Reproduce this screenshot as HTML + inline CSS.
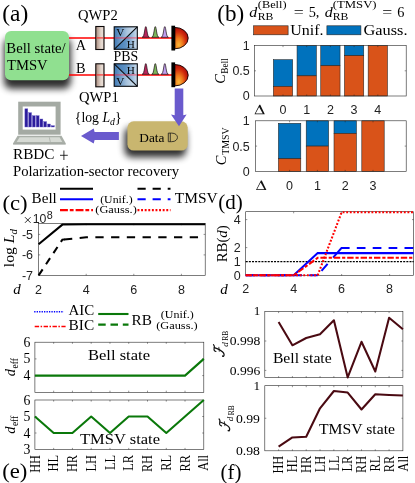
<!DOCTYPE html>
<html><head><meta charset="utf-8">
<style>
html,body{margin:0;padding:0;background:#fff;}
svg{display:block;opacity:0.999;}
text{font-family:"Liberation Serif",serif;fill:#000;}
.s{font-family:"Liberation Sans",sans-serif;fill:#222;}
.i{font-style:italic;}
</style></head><body>
<svg width="415" height="483" viewBox="0 0 415 483">
<defs>
<filter id="sh2" x="-30%" y="-40%" width="160%" height="190%"><feGaussianBlur stdDeviation="3.6"/></filter>
<filter id="sh" x="-30%" y="-40%" width="160%" height="190%"><feGaussianBlur stdDeviation="2.6"/></filter>
<linearGradient id="qwp" x1="0" x2="1" y1="0" y2="0"><stop offset="0" stop-color="#a88a7c"/><stop offset="0.55" stop-color="#dccdc3"/><stop offset="0.8" stop-color="#eadfd7"/><stop offset="1" stop-color="#cdbbb0"/></linearGradient>
<linearGradient id="pbsA" x1="0" x2="1" y1="0" y2="0"><stop offset="0" stop-color="#3d78b4"/><stop offset="0.55" stop-color="#a9c4de"/><stop offset="1" stop-color="#dce8f2"/></linearGradient>
<linearGradient id="pbsB" x1="0" x2="1" y1="0" y2="0"><stop offset="0" stop-color="#3d78b4"/><stop offset="0.5" stop-color="#5e92c4"/><stop offset="1" stop-color="#cfdfee"/></linearGradient>
<radialGradient id="det" cx="0.25" cy="0.8" r="0.85" fx="0.3" fy="0.82"><stop offset="0" stop-color="#fbb838"/><stop offset="0.35" stop-color="#ee7a1c"/><stop offset="0.7" stop-color="#d02a0c"/><stop offset="1" stop-color="#a80808"/></radialGradient>
</defs>
<rect width="415" height="483" fill="#fff"/>

<!-- ============ (a) ============ -->
<g id="pa">
<text x="2.3" y="20.9" font-size="23.5" textLength="26" lengthAdjust="spacingAndGlyphs">(a)</text>
<!-- shadows -->
<rect x="4" y="38" width="66.8" height="50.8" rx="7" fill="#000" opacity="0.82" filter="url(#sh2)"/>
<rect x="124.6" y="127.3" width="61.5" height="30" rx="7" fill="#000" opacity="0.82" filter="url(#sh2)"/>
<!-- beams -->
<line x1="69" y1="37.9" x2="172" y2="37.9" stroke="#ff0000" stroke-width="1.5"/>
<line x1="69" y1="74.9" x2="172" y2="74.9" stroke="#ff0000" stroke-width="1.5"/>
<!-- source -->
<rect x="5" y="31" width="64" height="49.3" rx="6" fill="#90e090"/>
<text x="6.3" y="52.9" font-size="14.6" textLength="59.4" lengthAdjust="spacingAndGlyphs">Bell state/</text>
<text x="7" y="69.8" font-size="14.6">TMSV</text>
<text x="75.8" y="49.8" font-size="14.3">A</text>
<text x="76" y="72.8" font-size="14.3">B</text>
<!-- QWP -->
<rect x="95.8" y="26.5" width="8.2" height="23" fill="url(#qwp)" stroke="#0a0606" stroke-width="1.1"/>
<rect x="95.8" y="63.8" width="8.2" height="23" fill="url(#qwp)" stroke="#0a0606" stroke-width="1.1"/>
<line x1="96.3" y1="37.9" x2="103.5" y2="37.9" stroke="#ff2020" stroke-width="1.5" opacity="0.7"/>
<line x1="96.3" y1="74.9" x2="103.5" y2="74.9" stroke="#ff2020" stroke-width="1.5" opacity="0.7"/>
<text x="78" y="20" font-size="14.6">QWP2</text>
<text x="79" y="101.5" font-size="14.6">QWP1</text>
<!-- PBS -->
<path d="M114.2 26.8 H137.3 L114.2 49.3Z" fill="url(#pbsA)"/>
<path d="M137.3 26.8 V49.3 H114.2Z" fill="url(#pbsB)"/>
<rect x="114.2" y="26.8" width="23.1" height="22.5" fill="none" stroke="#05080c" stroke-width="1.1"/>
<line x1="114.2" y1="49.3" x2="137.3" y2="26.8" stroke="#05080c" stroke-width="1.1"/>
<line x1="114.7" y1="37.9" x2="136.8" y2="37.9" stroke="#ff2040" stroke-width="1.4" opacity="0.5"/>
<text x="116.3" y="35.8" font-size="11.2">V</text>
<text x="126.8" y="47.7" font-size="11.2">H</text>
<path d="M114.2 63.8 V86.3 H137.3Z" fill="url(#pbsA)"/>
<path d="M114.2 63.8 H137.3 V86.3Z" fill="url(#pbsB)"/>
<rect x="114.2" y="63.8" width="23.1" height="22.5" fill="none" stroke="#05080c" stroke-width="1.1"/>
<line x1="114.2" y1="63.8" x2="137.3" y2="86.3" stroke="#05080c" stroke-width="1.1"/>
<line x1="114.7" y1="74.9" x2="136.8" y2="74.9" stroke="#ff2040" stroke-width="1.4" opacity="0.5"/>
<text x="126.8" y="73.5" font-size="11.2">H</text>
<text x="116.3" y="84.6" font-size="11.2">V</text>
<text x="113.5" y="60.6" font-size="14.6" textLength="24.6" lengthAdjust="spacingAndGlyphs">PBS</text>
<!-- pulses -->
<g id="pul" stroke="#1a0a10" stroke-width="0.7" stroke-linejoin="round">
<path d="M142.2 37.3 C144.6 37.3 144.6 26.6 145.8 26.6 C147 26.6 147 37.3 149.4 37.3Z" fill="#b8285c"/>
<path d="M151.7 37.3 C154.1 37.3 154.1 26.6 155.3 26.6 C156.5 26.6 156.5 37.3 158.9 37.3Z" fill="#7cb85c"/>
<path d="M161.2 37.3 C163.6 37.3 163.6 26.6 164.8 26.6 C166 26.6 166 37.3 168.4 37.3Z" fill="#c0a0f0"/>
</g>
<use href="#pul" y="37"/>
<!-- detectors -->
<path d="M174.8 27.4 A13.4 10.7 0 0 1 174.8 48.8Z" fill="url(#det)" stroke="#100" stroke-width="0.9"/>
<rect x="171.4" y="25.7" width="3.7" height="24.8" fill="#000"/>
<path d="M174.8 64.5 A13.4 10.7 0 0 1 174.8 85.9Z" fill="url(#det)" stroke="#100" stroke-width="0.9"/>
<rect x="171.4" y="62.4" width="3.7" height="24.8" fill="#000"/>
<!-- data box -->
<rect x="127.4" y="121.3" width="60.3" height="29.3" rx="6.3" fill="#c9b66f"/>
<text x="139.3" y="141.9" font-size="13.3">Data</text>
<!-- arrow -->
<path d="M174.7 88.5 H183.3 V115.2 L186.6 114.6 L179 126.2 L171 114.6 L174.7 115.2Z" fill="#6a5acd"/>
<g stroke="#111" fill="none" stroke-width="0.75"><path d="M168.3 133.1 H171.6 C179.4 133.1 179.4 141.7 171.6 141.7 H168.3 Z M170.3 133.1 V141.7"/></g>
<path d="M118.9 132 V140 H94.6 L93.7 143.6 L81 135.9 L93.7 128.6 L94.6 132Z" fill="#6a5acd"/>
<!-- {log L_d} -->
<text x="74.8" y="122" font-size="14.5" textLength="46.8" lengthAdjust="spacingAndGlyphs">{log <tspan class="i">L</tspan><tspan class="i" font-size="10.3" dy="2.5">d</tspan><tspan dy="-2.5">}</tspan></text>
<!-- laptop -->
<rect x="18.2" y="101.7" width="42.4" height="33" fill="#a4aaa3"/>
<rect x="22.7" y="106.5" width="32.9" height="23.1" fill="#fff"/>
<g fill="#2c1c9c" stroke="#6a60c8" stroke-width="0.4">
<rect x="24.9" y="108.8" width="2.9" height="18.2"/><rect x="28.65" y="112.7" width="2.9" height="14.3"/><rect x="32.4" y="115.7" width="2.9" height="11.3"/><rect x="36.2" y="115.7" width="2.9" height="11.3"/><rect x="39.95" y="119" width="2.9" height="8"/><rect x="43.7" y="121.6" width="2.9" height="5.4"/><rect x="47.5" y="124" width="2.9" height="3"/><rect x="51.2" y="125.7" width="3.2" height="1.3"/>
</g>
<path d="M17.6 135.8 H61.5 L65.7 143.2 H13.1Z" fill="#a9afa8"/>
<path d="M19.6 137.3 H59.6 L62.3 141.9 H16.6Z" fill="#d6dad4"/>
<path d="M49.3 137.3 L50.3 141.9" stroke="#a9afa8" stroke-width="0.8"/>
<path d="M13.1 143.2 H65.7 V144.6 H13.1Z" fill="#8e948d"/>
<text x="13" y="159" font-size="14.6" textLength="41.5" lengthAdjust="spacingAndGlyphs">RBDC</text>
<path d="M60 155.3 H67.8 M63.9 150.5 V160" stroke="#000" stroke-width="0.8" fill="none"/>
<text x="13" y="176" font-size="14.6" textLength="166" lengthAdjust="spacingAndGlyphs">Polarization-sector recovery</text>
</g>
<g id="pb">
<text x="217.3" y="20.8" font-size="23" textLength="26.9" lengthAdjust="spacingAndGlyphs">(b)</text>
<text x="249.3" y="17" font-size="14" class="i" textLength="8" lengthAdjust="spacingAndGlyphs">d</text>
<text x="257.8" y="20" font-size="9.3" textLength="15.6" lengthAdjust="spacingAndGlyphs">RB</text>
<text x="257.8" y="8.3" font-size="9.6" textLength="28.8" lengthAdjust="spacingAndGlyphs">(Bell)</text>
<text x="293.8" y="17" font-size="14.5" textLength="10" lengthAdjust="spacingAndGlyphs">=</text>
<text x="308.7" y="17" font-size="14.3">5,</text>
<text x="324.8" y="17" font-size="14" class="i" textLength="8" lengthAdjust="spacingAndGlyphs">d</text>
<text x="332.8" y="20" font-size="9.3" textLength="15.6" lengthAdjust="spacingAndGlyphs">RB</text>
<text x="332.8" y="8.3" font-size="9.6" textLength="43.8" lengthAdjust="spacingAndGlyphs">(TMSV)</text>
<text x="382.3" y="17" font-size="14.5" textLength="10" lengthAdjust="spacingAndGlyphs">=</text>
<text x="397.3" y="17" font-size="14.3">6</text>
<rect x="253.6" y="25.8" width="34.5" height="9" fill="#D95319" stroke="#222" stroke-width="0.6"/>
<text x="290.2" y="35.2" font-size="14.2" textLength="33.3" lengthAdjust="spacingAndGlyphs">Unif.</text>
<rect x="326.9" y="25.8" width="34" height="9" fill="#0072BD" stroke="#222" stroke-width="0.6"/>
<text x="363.5" y="35.2" font-size="14.2" textLength="44" lengthAdjust="spacingAndGlyphs">Gauss.</text>
<g stroke="#222" stroke-width="0.55">
<rect x="273.35" y="59.71" width="19.3" height="26.71" fill="#0072BD"/>
<rect x="273.35" y="86.42" width="19.3" height="9.58" fill="#D95319"/>
<rect x="297.05" y="45.60" width="19.3" height="30.24" fill="#0072BD"/>
<rect x="297.05" y="75.84" width="19.3" height="20.16" fill="#D95319"/>
<rect x="320.75" y="45.60" width="19.3" height="20.16" fill="#0072BD"/>
<rect x="320.75" y="65.76" width="19.3" height="30.24" fill="#D95319"/>
<rect x="344.45" y="45.60" width="19.3" height="10.08" fill="#0072BD"/>
<rect x="344.45" y="55.68" width="19.3" height="40.32" fill="#D95319"/>
<rect x="368.15" y="45.60" width="19.3" height="50.40" fill="#D95319"/>
</g>
<rect x="254.5" y="45.6" width="151.70" height="50.40" fill="none" stroke="#262626" stroke-width="0.6"/>
<path d="M283.00 96.0v-1.5M283.00 45.6v1.5M306.70 96.0v-1.5M306.70 45.6v1.5M330.40 96.0v-1.5M330.40 45.6v1.5M354.10 96.0v-1.5M354.10 45.6v1.5M377.80 96.0v-1.5M377.80 45.6v1.5M254.5 70.80h1.5M406.2 70.80h-1.5" stroke="#262626" stroke-width="0.5" fill="none"/>
<text x="249.8" y="50.0" font-size="12.5" class="s" text-anchor="end">1</text>
<text x="249.8" y="75.2" font-size="12.5" class="s" text-anchor="end">0.5</text>
<text x="249.8" y="100.4" font-size="12.5" class="s" text-anchor="end">0</text>
<text x="283.0" y="113.6" font-size="12.5" class="s" text-anchor="middle">0</text>
<text x="306.7" y="113.6" font-size="12.5" class="s" text-anchor="middle">1</text>
<text x="330.4" y="113.6" font-size="12.5" class="s" text-anchor="middle">2</text>
<text x="354.1" y="113.6" font-size="12.5" class="s" text-anchor="middle">3</text>
<text x="377.8" y="113.6" font-size="12.5" class="s" text-anchor="middle">4</text>
<path d="M254.5 114.3 L259.34999999999997 104.8 H260.25 L264.8 114.3Z M255.6 113.5 H262.75 L259.09999999999997 106.89999999999999Z" fill="#111" fill-rule="evenodd"/>
<g transform="translate(225,83.7) rotate(-90)">
<text x="0" y="0" font-size="14.5" class="i">C</text>
<text x="10" y="3.4" font-size="10" textLength="15.3" lengthAdjust="spacingAndGlyphs">Bell</text>
</g>
<g stroke="#222" stroke-width="0.55">
<rect x="278.40" y="123.33" width="22.4" height="35.42" fill="#0072BD"/>
<rect x="278.40" y="158.75" width="22.4" height="12.65" fill="#D95319"/>
<rect x="306.20" y="120.80" width="22.4" height="25.30" fill="#0072BD"/>
<rect x="306.20" y="146.10" width="22.4" height="25.30" fill="#D95319"/>
<rect x="334.00" y="120.80" width="22.4" height="12.65" fill="#0072BD"/>
<rect x="334.00" y="133.45" width="22.4" height="37.95" fill="#D95319"/>
<rect x="361.80" y="120.80" width="22.4" height="50.60" fill="#D95319"/>
</g>
<rect x="255.6" y="120.8" width="150.60" height="50.60" fill="none" stroke="#262626" stroke-width="0.6"/>
<path d="M289.60 171.4v-1.5M289.60 120.8v1.5M317.40 171.4v-1.5M317.40 120.8v1.5M345.20 171.4v-1.5M345.20 120.8v1.5M373.00 171.4v-1.5M373.00 120.8v1.5M255.6 146.10h1.5M406.2 146.10h-1.5" stroke="#262626" stroke-width="0.5" fill="none"/>
<text x="249.8" y="125.2" font-size="12.5" class="s" text-anchor="end">1</text>
<text x="249.8" y="150.5" font-size="12.5" class="s" text-anchor="end">0.5</text>
<text x="249.8" y="175.8" font-size="12.5" class="s" text-anchor="end">0</text>
<text x="289.6" y="189.5" font-size="12.5" class="s" text-anchor="middle">0</text>
<text x="317.4" y="189.5" font-size="12.5" class="s" text-anchor="middle">1</text>
<text x="345.2" y="189.5" font-size="12.5" class="s" text-anchor="middle">2</text>
<text x="373.0" y="189.5" font-size="12.5" class="s" text-anchor="middle">3</text>
<path d="M256 190 L260.9 180.4 H261.8 L266.4 190Z M257.1 189.2 H264.34999999999997 L260.65 182.5Z" fill="#111" fill-rule="evenodd"/>
<g transform="translate(225.6,165.2) rotate(-90)">
<text x="0" y="0" font-size="14.5" class="i">C</text>
<text x="10.4" y="3.4" font-size="10" textLength="27.3" lengthAdjust="spacingAndGlyphs">TMSV</text>
</g>
</g>
<g id="pc">
<text x="2.4" y="209.7" font-size="21.3" textLength="25.2" lengthAdjust="spacingAndGlyphs">(c)</text>
<text x="31.6" y="203" font-size="14.5" textLength="25.2" lengthAdjust="spacingAndGlyphs">Bell</text>
<line x1="60" y1="188.8" x2="93" y2="188.8" stroke="#000" stroke-width="2.05"/>
<line x1="60" y1="199.3" x2="93" y2="199.3" stroke="#0000ff" stroke-width="2.05"/>
<line x1="60" y1="210.1" x2="93" y2="210.1" stroke="#ff0000" stroke-width="2.05" stroke-dasharray="7.9 1.9 3.8 2"/>
<text x="100.2" y="203.2" font-size="11.3" textLength="32.5" lengthAdjust="spacingAndGlyphs">(Unif.)</text>
<text x="95.3" y="213.4" font-size="11.3" textLength="41.5" lengthAdjust="spacingAndGlyphs">(Gauss.)</text>
<line x1="137.5" y1="188.8" x2="170.5" y2="188.8" stroke="#000" stroke-width="2.05" stroke-dasharray="8.2 6.9"/>
<line x1="137.5" y1="199.3" x2="170.5" y2="199.3" stroke="#0000ff" stroke-width="2.05" stroke-dasharray="8.2 6.9"/>
<line x1="137.5" y1="210.1" x2="170.5" y2="210.1" stroke="#ff0000" stroke-width="2.05" stroke-dasharray="1.9 1.7"/>
<text x="174.8" y="203.4" font-size="14.5" textLength="42.8" lengthAdjust="spacingAndGlyphs">TMSV</text>
<path d="M25 217.2 L30.6 222.8 M30.6 217.2 L25 222.8" stroke="#262626" stroke-width="0.95" fill="none"/>
<text x="32.7" y="222.8" font-size="12.3" class="s">10</text>
<text x="46.8" y="218.5" font-size="10.8" class="s">8</text>
<rect x="38.6" y="223.6" width="166.60" height="51.80" fill="none" stroke="#262626" stroke-width="0.6"/>
<path d="M86.20 275.4v-1.6M86.20 223.6v1.6M133.80 275.4v-1.6M133.80 223.6v1.6M181.40 275.4v-1.6M181.40 223.6v1.6M38.6 234.40h1.6M205.2 234.40h-1.6M38.6 254.90h1.6M205.2 254.90h-1.6" stroke="#262626" stroke-width="0.5" fill="none"/>
<path d="M38.6 244.2 L62.4 224.6 L86.2 224.3 L205.2 224.3" fill="none" stroke="#000" stroke-width="2.05"/>
<path d="M38.6 275.4 L62.4 239.6 L64.5 239.4" fill="none" stroke="#000" stroke-width="2.05" stroke-dasharray="7.3 6.1"/>
<path d="M64 239.45 L86.2 237.3 L205.2 237.2" fill="none" stroke="#000" stroke-width="2.05" stroke-dasharray="8.3 7.43"/>
<text x="33" y="238.6" font-size="12.5" class="s" text-anchor="end">-5</text>
<text x="33" y="259.1" font-size="12.5" class="s" text-anchor="end">-6</text>
<text x="33" y="279.6" font-size="12.5" class="s" text-anchor="end">-7</text>
<text x="38.6" y="293.5" font-size="12.5" class="s" text-anchor="middle">2</text>
<text x="86.2" y="293.5" font-size="12.5" class="s" text-anchor="middle">4</text>
<text x="133.8" y="293.5" font-size="12.5" class="s" text-anchor="middle">6</text>
<text x="181.4" y="293.5" font-size="12.5" class="s" text-anchor="middle">8</text>
<text x="13.2" y="294" font-size="15" class="i">d</text>
<g transform="translate(14,267.2) rotate(-90)">
<text x="0" y="0" font-size="14.5" textLength="38.2" lengthAdjust="spacingAndGlyphs">log <tspan class="i">L</tspan><tspan class="i" font-size="10" dy="2.6">d</tspan></text>
</g>
<line x1="34.2" y1="311.8" x2="63.8" y2="311.8" stroke="#0000ff" stroke-width="1.5" stroke-dasharray="1.3 1.16"/>
<text x="68.4" y="315.4" font-size="14.5" textLength="25.8" lengthAdjust="spacingAndGlyphs">AIC</text>
<line x1="34.7" y1="326.6" x2="65.6" y2="326.6" stroke="#ff0000" stroke-width="1.5" stroke-dasharray="4.4 1.5 1.5 1.5"/>
<text x="68.6" y="330" font-size="14.5" textLength="25.6" lengthAdjust="spacingAndGlyphs">BIC</text>
<line x1="98.2" y1="314" x2="128.5" y2="314" stroke="#0a780a" stroke-width="2.1"/>
<line x1="98.2" y1="324.6" x2="128.5" y2="324.6" stroke="#0a780a" stroke-width="2.1" stroke-dasharray="7.5 4.8"/>
<text x="131.6" y="325" font-size="14.5" textLength="20.4" lengthAdjust="spacingAndGlyphs">RB</text>
<text x="160.8" y="317.8" font-size="11.3" textLength="33" lengthAdjust="spacingAndGlyphs">(Unif.)</text>
<text x="156.2" y="329" font-size="11.3" textLength="41.5" lengthAdjust="spacingAndGlyphs">(Gauss.)</text>
</g>
<g id="pd">
<text x="218.3" y="208.8" font-size="21.3" textLength="24.6" lengthAdjust="spacingAndGlyphs">(d)</text>
<rect x="245.7" y="211.7" width="167.90" height="63.90" fill="none" stroke="#262626" stroke-width="0.6"/>
<path d="M293.67 275.6v-1.6M293.67 211.7v1.6M341.64 275.6v-1.6M341.64 211.7v1.6M389.61 275.6v-1.6M389.61 211.7v1.6M245.7 219.60h1.6M413.6 219.60h-1.6M245.7 247.60h1.6M413.6 247.60h-1.6M245.7 261.60h1.6M413.6 261.60h-1.6" stroke="#262626" stroke-width="0.5" fill="none"/>
<line x1="245.7" y1="261.6" x2="413.6" y2="261.6" stroke="#000" stroke-width="1.1" stroke-dasharray="2 1.15"/>
<path d="M245.7 275.3 H293.7 L317.7 253.1 H413.6" fill="none" stroke="#0000ff" stroke-width="2.05"/>
<path d="M245.7 275.3 H317.7" fill="none" stroke="#0000ff" stroke-width="2.05" stroke-dasharray="8.7 7.2"/>
<path d="M317.7 275.3 L341.6 247.9" fill="none" stroke="#0000ff" stroke-width="2.05" stroke-dasharray="0 5.8 9.3 8.3 13.6 100"/>
<path d="M341.0 247.9 H413.6" fill="none" stroke="#0000ff" stroke-width="2.05" stroke-dasharray="8.6 7.2 8.7 7.2 8.7 7.2 8.7 7.2 8.7 7.2"/>
<path d="M245.7 275.3 H293.7 L317.7 257.8 H413.6" fill="none" stroke="#ff0000" stroke-width="2.05" stroke-dasharray="6.4 1.9 3.2 1.9"/>
<path d="M245.7 275.3 H317.7 L341.6 212.29999999999998 H413.6" fill="none" stroke="#ff0000" stroke-width="2.05" stroke-dasharray="1.9 1.7"/>
<text x="240.8" y="223.8" font-size="12.5" class="s" text-anchor="end">4</text>
<text x="240.8" y="251.8" font-size="12.5" class="s" text-anchor="end">2</text>
<text x="240.8" y="265.8" font-size="12.5" class="s" text-anchor="end">1</text>
<text x="240.8" y="279.8" font-size="12.5" class="s" text-anchor="end">0</text>
<text x="245.7" y="293.3" font-size="12.5" class="s" text-anchor="middle">2</text>
<text x="293.7" y="293.3" font-size="12.5" class="s" text-anchor="middle">4</text>
<text x="341.6" y="293.3" font-size="12.5" class="s" text-anchor="middle">6</text>
<text x="389.6" y="293.3" font-size="12.5" class="s" text-anchor="middle">8</text>
<text x="220.3" y="293.8" font-size="15" class="i">d</text>
<g transform="translate(227.2,262.3) rotate(-90)">
<text x="0" y="0" font-size="14.5" textLength="37" lengthAdjust="spacingAndGlyphs">RB(<tspan class="i">d</tspan>)</text>
</g>
</g>
<g id="pe">
<rect x="34.9" y="342.2" width="168.90" height="50.10" fill="none" stroke="#262626" stroke-width="0.6"/>
<path d="M53.67 392.3v-1.6M53.67 342.2v1.6M72.43 392.3v-1.6M72.43 342.2v1.6M91.20 392.3v-1.6M91.20 342.2v1.6M109.97 392.3v-1.6M109.97 342.2v1.6M128.73 392.3v-1.6M128.73 342.2v1.6M147.50 392.3v-1.6M147.50 342.2v1.6M166.27 392.3v-1.6M166.27 342.2v1.6M185.03 392.3v-1.6M185.03 342.2v1.6M34.9 358.90h1.6M203.8 358.90h-1.6M34.9 375.60h1.6M203.8 375.60h-1.6" stroke="#262626" stroke-width="0.5" fill="none"/>
<rect x="34.9" y="400.0" width="168.90" height="49.50" fill="none" stroke="#262626" stroke-width="0.6"/>
<path d="M53.67 449.5v-1.6M53.67 400.0v1.6M72.43 449.5v-1.6M72.43 400.0v1.6M91.20 449.5v-1.6M91.20 400.0v1.6M109.97 449.5v-1.6M109.97 400.0v1.6M128.73 449.5v-1.6M128.73 400.0v1.6M147.50 449.5v-1.6M147.50 400.0v1.6M166.27 449.5v-1.6M166.27 400.0v1.6M185.03 449.5v-1.6M185.03 400.0v1.6M34.9 416.50h1.6M203.8 416.50h-1.6M34.9 433.00h1.6M203.8 433.00h-1.6" stroke="#262626" stroke-width="0.5" fill="none"/>
<path d="M34.9 375.6 L53.7 375.6 L72.4 375.6 L91.2 375.6 L110.0 375.6 L128.7 375.6 L147.5 375.6 L166.3 375.6 L185.0 375.6 L203.8 358.9" fill="none" stroke="#0a780a" stroke-width="2.1" stroke-linejoin="round"/>
<path d="M34.9 416.5 L53.7 433.0 L72.4 433.0 L91.2 416.5 L110.0 433.0 L128.7 416.5 L147.5 416.5 L166.3 433.0 L185.0 416.5 L203.8 400.0" fill="none" stroke="#0a780a" stroke-width="2.1" stroke-linejoin="round"/>
<text x="30.5" y="346.7" font-size="13.8" text-anchor="end">6</text>
<text x="30.5" y="363.4" font-size="13.8" text-anchor="end">5</text>
<text x="30.5" y="380.1" font-size="13.8" text-anchor="end">4</text>
<text x="30.5" y="404.5" font-size="13.8" text-anchor="end">6</text>
<text x="30.5" y="421.0" font-size="13.8" text-anchor="end">5</text>
<text x="30.5" y="437.5" font-size="13.8" text-anchor="end">4</text>
<text x="30.5" y="454.0" font-size="13.8" text-anchor="end">3</text>
<text x="88" y="360.4" font-size="14.5" textLength="62" lengthAdjust="spacingAndGlyphs">Bell state</text>
<text x="80" y="444.2" font-size="14.5" textLength="80" lengthAdjust="spacingAndGlyphs">TMSV state</text>
<g transform="translate(15,376.2) rotate(-90)">
<text x="0" y="0" font-size="14.5" class="i">d</text>
<text x="7.7" y="2.6" font-size="10" textLength="10.4" lengthAdjust="spacingAndGlyphs">eff</text>
</g>
<g transform="translate(15,433.8) rotate(-90)">
<text x="0" y="0" font-size="14.5" class="i">d</text>
<text x="7.7" y="2.6" font-size="10" textLength="10.4" lengthAdjust="spacingAndGlyphs">eff</text>
</g>
<text transform="translate(39.5,455) rotate(-90)" font-size="14" text-anchor="end" textLength="17.8" lengthAdjust="spacingAndGlyphs">HH</text>
<text transform="translate(58.3,455) rotate(-90)" font-size="14" text-anchor="end" textLength="16.4" lengthAdjust="spacingAndGlyphs">HL</text>
<text transform="translate(77.1,455) rotate(-90)" font-size="14" text-anchor="end" textLength="17.1" lengthAdjust="spacingAndGlyphs">HR</text>
<text transform="translate(95.8,455) rotate(-90)" font-size="14" text-anchor="end" textLength="16.4" lengthAdjust="spacingAndGlyphs">LH</text>
<text transform="translate(114.6,455) rotate(-90)" font-size="14" text-anchor="end" textLength="15.1" lengthAdjust="spacingAndGlyphs">LL</text>
<text transform="translate(133.4,455) rotate(-90)" font-size="14" text-anchor="end" textLength="15.7" lengthAdjust="spacingAndGlyphs">LR</text>
<text transform="translate(152.2,455) rotate(-90)" font-size="14" text-anchor="end" textLength="17.1" lengthAdjust="spacingAndGlyphs">RH</text>
<text transform="translate(170.9,455) rotate(-90)" font-size="14" text-anchor="end" textLength="15.7" lengthAdjust="spacingAndGlyphs">RL</text>
<text transform="translate(189.7,455) rotate(-90)" font-size="14" text-anchor="end" textLength="16.4" lengthAdjust="spacingAndGlyphs">RR</text>
<text transform="translate(208.4,455) rotate(-90)" font-size="14" text-anchor="end" textLength="15.7" lengthAdjust="spacingAndGlyphs">All</text>
<text x="2.2" y="478.4" font-size="21.3" textLength="25.2" lengthAdjust="spacingAndGlyphs">(e)</text>
</g>
<g id="pf">
<rect x="264.8" y="311.6" width="138.10" height="66.00" fill="none" stroke="#262626" stroke-width="0.6"/>
<path d="M278.61 377.6v-1.5M278.61 311.6v1.5M292.42 377.6v-1.5M292.42 311.6v1.5M306.23 377.6v-1.5M306.23 311.6v1.5M320.04 377.6v-1.5M320.04 311.6v1.5M333.85 377.6v-1.5M333.85 311.6v1.5M347.66 377.6v-1.5M347.66 311.6v1.5M361.47 377.6v-1.5M361.47 311.6v1.5M375.28 377.6v-1.5M375.28 311.6v1.5M389.09 377.6v-1.5M389.09 311.6v1.5M264.8 341.00h1.5M402.9 341.00h-1.5M264.8 370.40h1.5M402.9 370.40h-1.5" stroke="#262626" stroke-width="0.5" fill="none"/>
<rect x="264.8" y="385.7" width="138.10" height="65.10" fill="none" stroke="#262626" stroke-width="0.6"/>
<path d="M278.61 450.8v-1.5M278.61 385.7v1.5M292.42 450.8v-1.5M292.42 385.7v1.5M306.23 450.8v-1.5M306.23 385.7v1.5M320.04 450.8v-1.5M320.04 385.7v1.5M333.85 450.8v-1.5M333.85 385.7v1.5M347.66 450.8v-1.5M347.66 385.7v1.5M361.47 450.8v-1.5M361.47 385.7v1.5M375.28 450.8v-1.5M375.28 385.7v1.5M389.09 450.8v-1.5M389.09 385.7v1.5M264.8 418.25h1.5M402.9 418.25h-1.5" stroke="#262626" stroke-width="0.5" fill="none"/>
<path d="M278.6 322.0 L292.4 345.3 L306.2 338.0 L320.0 334.2 L333.9 320.3 L347.7 377.4 L361.5 341.8 L375.3 371.5 L389.1 317.8 L402.9 329.2" fill="none" stroke="#4a0a12" stroke-width="2.05" stroke-linejoin="round"/>
<path d="M278.6 446.7 L292.4 437.4 L306.2 436.8 L320.0 408.3 L333.9 391.0 L347.7 392.6 L361.5 409.5 L375.3 394.3 L389.1 395.1 L402.9 395.6" fill="none" stroke="#4a0a12" stroke-width="2.05" stroke-linejoin="round"/>
<text x="260.3" y="315.3" font-size="13.2" text-anchor="end">1</text>
<text x="229.8" y="345.2" font-size="13.2" textLength="30.6" lengthAdjust="spacingAndGlyphs">0.998</text>
<text x="229.8" y="374.6" font-size="13.2" textLength="30.6" lengthAdjust="spacingAndGlyphs">0.996</text>
<text x="260.2" y="390" font-size="13.2" text-anchor="end">1</text>
<text x="235.9" y="422.5" font-size="13.2" textLength="24" lengthAdjust="spacingAndGlyphs">0.99</text>
<text x="235.9" y="455" font-size="13.2" textLength="24" lengthAdjust="spacingAndGlyphs">0.98</text>
<text x="272.9" y="363.1" font-size="14.5" textLength="58.8" lengthAdjust="spacingAndGlyphs">Bell state</text>
<text x="319" y="434" font-size="14.5" textLength="76" lengthAdjust="spacingAndGlyphs">TMSV state</text>
<g transform="translate(224.3,357.1) rotate(-90)">
<path d="M5.6 -8.4 C5.9 -10.3 7.5 -10.5 9 -10.1 C10.4 -9.7 11.5 -9.8 12.5 -10.8" fill="none" stroke="#111" stroke-width="1.2" stroke-linecap="round"/>
<path d="M9.5 -9.9 C8.6 -7 7.2 -4 5.4 -1.9 C3.9 -0.1 1.9 0.3 0.7 -0.8" fill="none" stroke="#111" stroke-width="1.25" stroke-linecap="round"/>
<circle cx="1" cy="-1.5" r="0.85" fill="#111"/>
<path d="M5.4 -5 L10.2 -5.5" fill="none" stroke="#111" stroke-width="0.8"/>
<text x="10.3" y="3.2" font-size="9.2" class="i">d</text>
<text x="16.3" y="3.9" font-size="7.2" textLength="10" lengthAdjust="spacingAndGlyphs">RB</text>
</g>
<g transform="translate(229.9,431.5) rotate(-90)">
<path d="M5.6 -8.4 C5.9 -10.3 7.5 -10.5 9 -10.1 C10.4 -9.7 11.5 -9.8 12.5 -10.8" fill="none" stroke="#111" stroke-width="1.2" stroke-linecap="round"/>
<path d="M9.5 -9.9 C8.6 -7 7.2 -4 5.4 -1.9 C3.9 -0.1 1.9 0.3 0.7 -0.8" fill="none" stroke="#111" stroke-width="1.25" stroke-linecap="round"/>
<circle cx="1" cy="-1.5" r="0.85" fill="#111"/>
<path d="M5.4 -5 L10.2 -5.5" fill="none" stroke="#111" stroke-width="0.8"/>
<text x="10.3" y="3.2" font-size="9.2" class="i">d</text>
<text x="16.3" y="3.9" font-size="7.2" textLength="10" lengthAdjust="spacingAndGlyphs">RB</text>
</g>
<text transform="translate(283.3,455.8) rotate(-90)" font-size="14" text-anchor="end" textLength="17.8" lengthAdjust="spacingAndGlyphs">HH</text>
<text transform="translate(297.1,455.8) rotate(-90)" font-size="14" text-anchor="end" textLength="16.4" lengthAdjust="spacingAndGlyphs">HL</text>
<text transform="translate(310.9,455.8) rotate(-90)" font-size="14" text-anchor="end" textLength="17.1" lengthAdjust="spacingAndGlyphs">HR</text>
<text transform="translate(324.7,455.8) rotate(-90)" font-size="14" text-anchor="end" textLength="16.4" lengthAdjust="spacingAndGlyphs">LH</text>
<text transform="translate(338.5,455.8) rotate(-90)" font-size="14" text-anchor="end" textLength="15.1" lengthAdjust="spacingAndGlyphs">LL</text>
<text transform="translate(352.3,455.8) rotate(-90)" font-size="14" text-anchor="end" textLength="15.7" lengthAdjust="spacingAndGlyphs">LR</text>
<text transform="translate(366.1,455.8) rotate(-90)" font-size="14" text-anchor="end" textLength="17.1" lengthAdjust="spacingAndGlyphs">RH</text>
<text transform="translate(379.9,455.8) rotate(-90)" font-size="14" text-anchor="end" textLength="15.7" lengthAdjust="spacingAndGlyphs">RL</text>
<text transform="translate(393.7,455.8) rotate(-90)" font-size="14" text-anchor="end" textLength="16.4" lengthAdjust="spacingAndGlyphs">RR</text>
<text transform="translate(407.5,455.8) rotate(-90)" font-size="14" text-anchor="end" textLength="15.7" lengthAdjust="spacingAndGlyphs">All</text>
<text x="220.5" y="478.7" font-size="21.3" textLength="21" lengthAdjust="spacingAndGlyphs">(f)</text>
</g>
</svg>
</body></html>
